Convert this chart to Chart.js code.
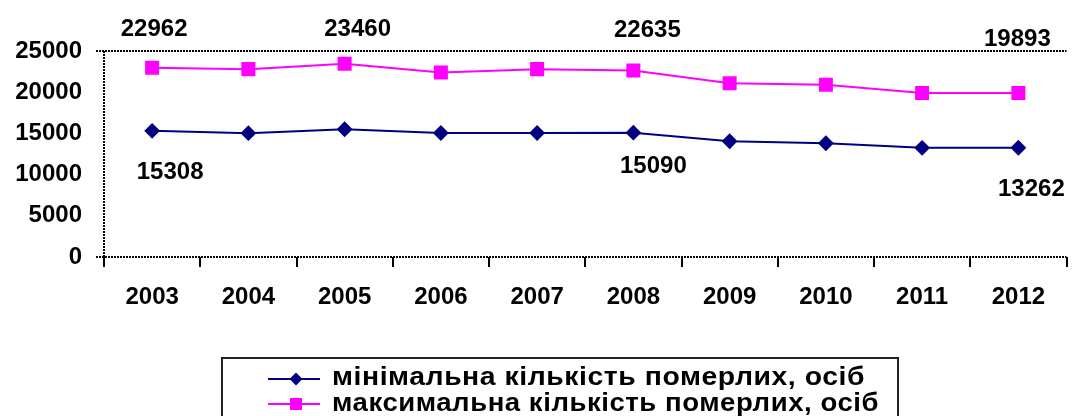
<!DOCTYPE html>
<html>
<head>
<meta charset="utf-8">
<script src="https://cdn.jsdelivr.net/npm/chart.js@4"></script>
<style>
  body { margin: 0; background: #fff; }
  #wrap { width: 1077px; height: 416px; }
</style>
</head>
<body>
<div id="wrap"><canvas id="chart" width="1077" height="416"></canvas></div>
<script>
// Data
const years = ['2003', '2004', '2005', '2006', '2007', '2008', '2009', '2010', '2011', '2012'];
const minDeaths = [15308, 15030, 15500, 15050, 15050, 15090, 14050, 13800, 13250, 13262];
const maxDeaths = [22962, 22800, 23460, 22400, 22800, 22635, 21100, 20900, 19900, 19893];
const seriesNames = ['мінімальна кількість померлих, осіб', 'максимальна кількість померлих, осіб'];
const yTicks = [0, 5000, 10000, 15000, 20000, 25000];

// which points carry a value label (dataset, index, offset from the point)
const pointLabels = [
    { ds: 1, i: 0, dx: 2, dy: -32 },
    { ds: 1, i: 2, dx: 13, dy: -28 },
    { ds: 1, i: 5, dx: 14, dy: -33 },
    { ds: 1, i: 9, dx: -1, dy: -47 },
    { ds: 0, i: 0, dx: 18, dy: 48 },
    { ds: 0, i: 5, dx: 20, dy: 40 },
    { ds: 0, i: 9, dx: 13, dy: 48 }
];

const fontFam = '"Liberation Sans", Arial, sans-serif';
const numFont = 'bold 24px ' + fontFam;

// dotted frame lines + value labels + boxed legend
const extras = {
    id: 'extras',
    afterDraw(chart) {
        const c = chart.ctx;
        const a = chart.chartArea;
        c.save();
        c.strokeStyle = '#000';
        c.lineWidth = 2;
        c.setLineDash([2, 1]);
        c.beginPath();
        c.moveTo(96, a.top); c.lineTo(a.right, a.top);
        c.moveTo(96, a.bottom); c.lineTo(a.right, a.bottom);
        c.moveTo(a.left, a.top); c.lineTo(a.left, a.bottom + 10);
        c.stroke();
        c.setLineDash([]);

        c.font = numFont;
        c.fillStyle = '#000';
        c.textAlign = 'center';
        c.textBaseline = 'alphabetic';
        pointLabels.forEach(p => {
            const pt = chart.getDatasetMeta(p.ds).data[p.i];
            const v = chart.data.datasets[p.ds].data[p.i];
            c.fillText(String(v), pt.x + p.dx, pt.y + p.dy);
        });

        // legend
        c.lineWidth = 2;
        c.strokeStyle = '#222';
        c.strokeRect(222, 358, 676, 80);
        c.font = 'bold 25px ' + fontFam;
        c.textAlign = 'left';
        const rows = [{ y: 379, base: 385, w: 533 }, { y: 404, base: 411, w: 547 }];
        chart.data.datasets.forEach((ds, k) => {
            const r = rows[k];
            c.strokeStyle = ds.borderColor;
            c.lineWidth = 2;
            c.beginPath();
            c.moveTo(268, r.y); c.lineTo(320, r.y);
            c.stroke();
            c.fillStyle = ds.pointBackgroundColor;
            if (ds.pointStyle === 'rectRot') {
                c.beginPath();
                c.moveTo(296, r.y - 6.5); c.lineTo(302.5, r.y);
                c.lineTo(296, r.y + 6.5); c.lineTo(289.5, r.y);
                c.closePath(); c.fill();
            } else {
                c.fillRect(290, r.y - 6, 12, 12);
            }
            c.fillStyle = '#000';
            c.letterSpacing = '0.5px';
            const sx = r.w / c.measureText(ds.label).width;
            c.save();
            c.translate(332, r.base);
            c.scale(sx, 1);
            c.fillText(ds.label, 0, 0);
            c.restore();
        });
        c.restore();
    }
};

new Chart(document.getElementById('chart'), {
    type: 'line',
    data: {
        labels: years,
        datasets: [{
            label: seriesNames[0],
            data: minDeaths,
            borderColor: '#000080',
            backgroundColor: '#000080',
            pointBackgroundColor: '#000080',
            pointBorderColor: '#000080',
            pointStyle: 'rectRot',
            pointRadius: 6.5,
            borderWidth: 2,
            tension: 0
        }, {
            label: seriesNames[1],
            data: maxDeaths,
            borderColor: '#ff00ff',
            backgroundColor: '#ff00ff',
            pointBackgroundColor: '#ff00ff',
            pointBorderColor: '#ff00ff',
            pointStyle: 'rect',
            pointRadius: 8.5,
            borderWidth: 2,
            tension: 0
        }]
    },
    options: {
        responsive: false,
        animation: false,
        layout: { padding: { top: 51, left: 0, right: 0, bottom: 0 } },
        plugins: { legend: { display: false }, tooltip: { enabled: false } },
        scales: {
            x: {
                offset: true,
                afterFit: s => { s.height = 159; },
                grid: { offset: true, drawOnChartArea: false, drawTicks: true, tickLength: 10, color: '#000', lineWidth: 2 },
                border: { display: false },
                ticks: { color: '#000', font: { family: fontFam, size: 24, weight: 'bold' }, padding: 16, maxRotation: 0 }
            },
            y: {
                min: 0,
                max: 25000,
                afterFit: s => { s.width = 104; },
                afterBuildTicks: s => { s.ticks = yTicks.map(v => ({ value: v })); },
                grid: { display: false },
                border: { display: false },
                ticks: {
                    color: '#000',
                    font: { family: fontFam, size: 24, weight: 'bold' },
                    padding: 14,
                    callback: v => String(v)
                }
            }
        }
    },
    plugins: [extras]
});
</script>
</body>
</html>
